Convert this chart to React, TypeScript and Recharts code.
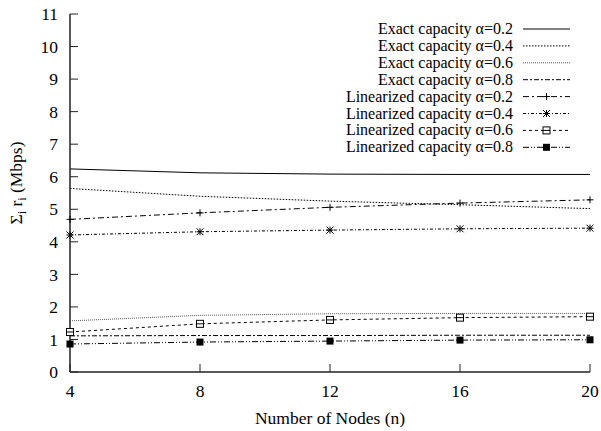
import React from "react";
import { LineChart, Line, XAxis, YAxis } from "recharts";

const nodes = [4, 8, 12, 16, 20];
const exact02 = [6.24, 6.12, 6.08, 6.07, 6.07];
const exact04 = [5.64, 5.4, 5.25, 5.14, 5.02];
const exact06 = [1.57, 1.74, 1.79, 1.8, 1.8];
const exact08 = [1.11, 1.12, 1.12, 1.13, 1.13];
const lin02 = [4.69, 4.89, 5.06, 5.19, 5.29];
const lin04 = [4.21, 4.31, 4.36, 4.4, 4.42];
const lin06 = [1.23, 1.48, 1.6, 1.67, 1.7];
const lin08 = [0.86, 0.92, 0.95, 0.98, 0.99];

const xTicks = [4, 8, 12, 16, 20];
const yTicks = [0, 1, 2, 3, 4, 5, 6, 7, 8, 9, 10, 11];

type MarkerKind = "none" | "plus" | "star" | "box" | "fillbox";

interface SeriesDef {
  key: string;
  name: string;
  dash?: string;
  color: string;
  marker: MarkerKind;
}

const series: SeriesDef[] = [
  { key: "e02", name: "Exact capacity α=0.2", color: "#000", marker: "none" },
  { key: "e04", name: "Exact capacity α=0.4", dash: "1.5 1.5", color: "#000", marker: "none" },
  { key: "e06", name: "Exact capacity α=0.6", dash: "1 1", color: "#555", marker: "none" },
  { key: "e08", name: "Exact capacity α=0.8", dash: "5 2 2 2", color: "#000", marker: "none" },
  { key: "l02", name: "Linearized capacity α=0.2", dash: "6 3 2 3", color: "#000", marker: "plus" },
  { key: "l04", name: "Linearized capacity α=0.4", dash: "3 2 1 2", color: "#000", marker: "star" },
  { key: "l06", name: "Linearized capacity α=0.6", dash: "3 3", color: "#000", marker: "box" },
  { key: "l08", name: "Linearized capacity α=0.8", dash: "6 2 1 2 1 2", color: "#000", marker: "fillbox" },
];

const values: Record<string, number[]> = {
  e02: exact02,
  e04: exact04,
  e06: exact06,
  e08: exact08,
  l02: lin02,
  l04: lin04,
  l06: lin06,
  l08: lin08,
};

const data = nodes.map((n, i) => {
  const row: Record<string, number> = { n };
  series.forEach((s) => (row[s.key] = values[s.key][i]));
  return row;
});

const FONT = "Liberation Serif, Times New Roman, DejaVu Serif, serif";

function Marker({ kind, cx, cy }: { kind: MarkerKind; cx: number; cy: number }) {
  const r = 3.5;
  if (kind === "plus")
    return (
      <g stroke="#000" strokeWidth={1}>
        <line x1={cx - r} y1={cy} x2={cx + r} y2={cy} />
        <line x1={cx} y1={cy - r} x2={cx} y2={cy + r} />
      </g>
    );
  if (kind === "star")
    return (
      <g stroke="#000" strokeWidth={1}>
        <line x1={cx - r} y1={cy} x2={cx + r} y2={cy} />
        <line x1={cx} y1={cy - r} x2={cx} y2={cy + r} />
        <line x1={cx - r} y1={cy - r} x2={cx + r} y2={cy + r} />
        <line x1={cx - r} y1={cy + r} x2={cx + r} y2={cy - r} />
      </g>
    );
  if (kind === "box")
    return (
      <g stroke="#000" strokeWidth={1}>
        <rect x={cx - r} y={cy - r} width={2 * r} height={2 * r} fill="#fff" />
        <line x1={cx - r} y1={cy} x2={cx + r} y2={cy} />
      </g>
    );
  if (kind === "fillbox")
    return <rect x={cx - r} y={cy - r} width={2 * r} height={2 * r} fill="#000" />;
  return null;
}

function LegendBox() {
  return (
    <svg
      width={601}
      height={170}
      style={{ position: "absolute", left: 0, top: 0, pointerEvents: "none" }}
    >
      {series.map((s, i) => {
        const y = 29 + i * 16.9;
        return (
          <g key={s.key}>
            <text
              x={513}
              y={y + 5}
              textAnchor="end"
              style={{ fontFamily: FONT, fontSize: 16 }}
              fill="#000"
            >
              {s.name}
            </text>
            <line
              x1={523}
              y1={y}
              x2={570}
              y2={y}
              stroke={s.color}
              strokeDasharray={s.dash}
              strokeWidth={1}
            />
            <Marker kind={s.marker} cx={546.5} cy={y} />
          </g>
        );
      })}
    </svg>
  );
}

function YTitle() {
  return (
    <text
      transform="translate(22,183) rotate(-90)"
      textAnchor="middle"
      style={{ fontFamily: FONT, fontSize: 17.5 }}
      fill="#000"
    >
      Σ<tspan fontSize={12} dy={4}>i</tspan>
      <tspan dy={-4}> r</tspan>
      <tspan fontSize={12} dy={4}>i</tspan>
      <tspan dy={-4}> (Mbps)</tspan>
    </text>
  );
}

function XTitle(props: any) {
  const vb = props.viewBox || { x: 70, width: 520, y: 372 };
  return (
    <text
      x={vb.x + vb.width / 2}
      y={424}
      textAnchor="middle"
      style={{ fontFamily: FONT, fontSize: 17.5 }}
      fill="#000"
    >
      Number of Nodes (n)
    </text>
  );
}

const tickStyle = { fill: "#000", fontSize: 17.5, fontFamily: FONT };

export default function App() {
  return (
    <div
      style={{
        position: "absolute",
        left: 0,
        top: 0,
        width: 601,
        height: 431,
        background: "#fff",
        fontFamily: FONT,
      }}
    >
      <LineChart
        width={601}
        height={431}
        data={data}
        margin={{ top: 14, right: 11, left: 30, bottom: 9 }}
        style={{ fontFamily: FONT }}
      >
        <XAxis
          dataKey="n"
          type="number"
          domain={[4, 20]}
          ticks={xTicks}
          tick={tickStyle}
          tickSize={-8}
          tickMargin={21}
          height={50}
          stroke="#222"
          axisLine={{ stroke: "#222", strokeWidth: 1.5 }}
          label={<XTitle />}
        />
        <XAxis
          xAxisId="top"
          orientation="top"
          dataKey="n"
          type="number"
          domain={[4, 20]}
          ticks={xTicks}
          tick={false}
          tickSize={-8}
          height={0}
          stroke="#222"
          axisLine={{ stroke: "#222", strokeWidth: 1.5 }}
        />
        <YAxis
          domain={[0, 11]}
          ticks={yTicks}
          tick={tickStyle}
          tickSize={-8}
          tickMargin={20}
          width={40}
          stroke="#222"
          axisLine={{ stroke: "#222", strokeWidth: 1.5 }}
          label={<YTitle />}
        />
        <YAxis
          yAxisId="right"
          orientation="right"
          domain={[0, 11]}
          ticks={yTicks}
          tick={false}
          tickSize={-8}
          width={0}
          stroke="#222"
          axisLine={{ stroke: "#222", strokeWidth: 1.5 }}
        />
        {series.map((s) => (
          <Line
            key={s.key}
            dataKey={s.key}
            name={s.name}
            type="linear"
            stroke={s.color}
            strokeWidth={1}
            strokeDasharray={s.dash}
            isAnimationActive={false}
            dot={
              s.marker === "none"
                ? false
                : (p: any) => <Marker key={p.index} kind={s.marker} cx={p.cx} cy={p.cy} />
            }
            activeDot={false}
          />
        ))}
      </LineChart>
      <LegendBox />
    </div>
  );
}
